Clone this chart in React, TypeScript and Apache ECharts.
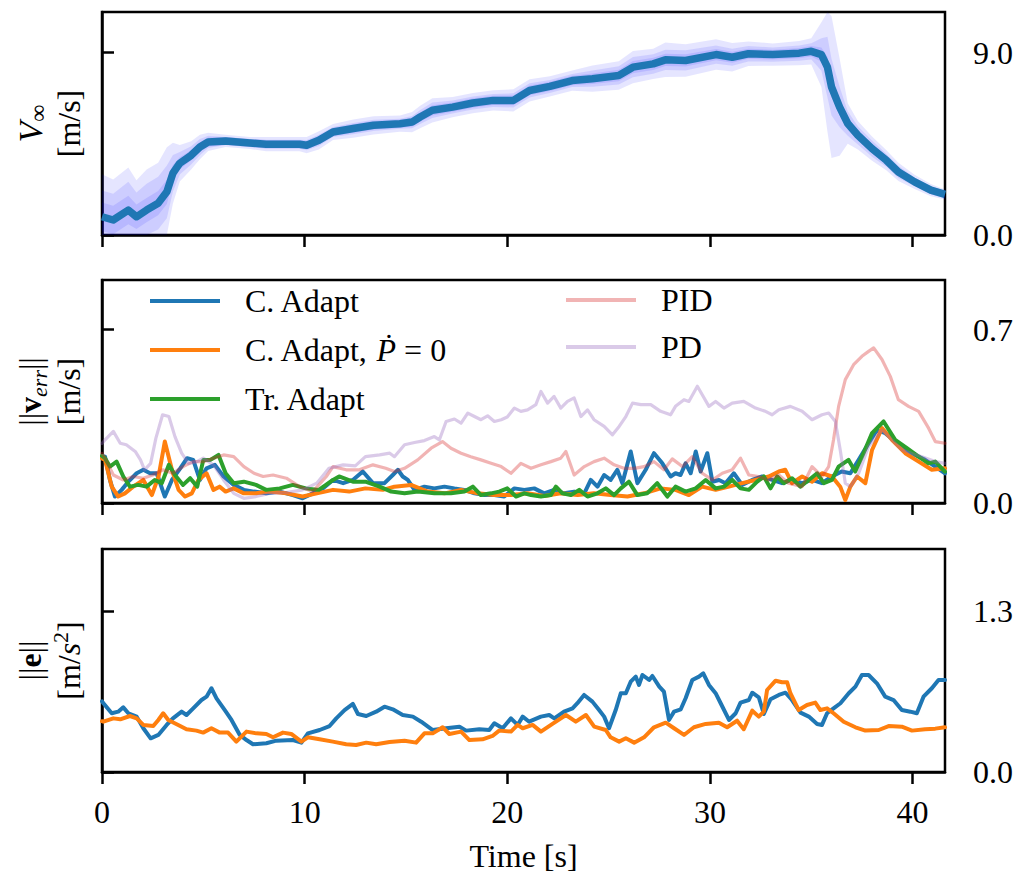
import React, { useEffect, useRef } from 'react';
import * as echarts from 'echarts';

const FONT = "'Liberation Serif', 'DejaVu Serif', serif";
const FS = 32;

const xTicks = [0, 10, 20, 30, 40];
const speedTicks = [0, 9];
const errTicks = [0, 0.7];
const accTicks = [0, 1.3];

const legendLeft = ['C. Adapt', 'C. Adapt, Ṗ = 0', 'Tr. Adapt'];
const legendRight = ['PID', 'PD'];

// Panel 1: airspeed mean and spread
const speedTime = [0, 0.55, 1.3, 1.7, 2.2, 2.77, 3.2, 3.5, 3.84, 4.4, 4.83, 5.24, 6.1, 7.3, 8.1, 9.75, 10.1, 10.7, 11.4, 12.4, 13.4, 14.7, 15.3, 15.7, 16.3, 17.3, 18.3, 19.3, 20.3, 21.1, 22.1, 23.2, 24.2, 25.5, 26.2, 27.2, 27.8, 28.8, 30.3, 31.1, 31.9, 33.1, 34.4, 35.0, 35.5, 35.8, 36.0, 36.4, 36.8, 37.3, 38.0, 38.7, 39.3, 40.1, 40.9, 41.6];
const speedMean = [0.90, 0.74, 1.23, 0.90, 1.23, 1.57, 2.13, 3.05, 3.54, 3.93, 4.34, 4.59, 4.64, 4.54, 4.48, 4.48, 4.43, 4.67, 5.08, 5.25, 5.41, 5.49, 5.57, 5.82, 6.15, 6.31, 6.51, 6.64, 6.64, 7.13, 7.33, 7.62, 7.71, 7.87, 8.28, 8.44, 8.64, 8.61, 8.90, 8.77, 8.94, 8.90, 8.97, 9.06, 8.90, 8.28, 7.30, 6.31, 5.50, 4.92, 4.26, 3.69, 3.11, 2.62, 2.21, 2.00];
const speedSpreadOuter = [2.1, 2.0, 2.1, 1.8, 2.0, 2.0, 2.2, 1.5, 0.9, 0.7, 0.6, 0.45, 0.3, 0.3, 0.35, 0.35, 0.4, 0.45, 0.4, 0.45, 0.45, 0.4, 0.5, 0.55, 0.6, 0.5, 0.5, 0.5, 0.55, 0.55, 0.5, 0.5, 0.65, 0.7, 0.8, 0.75, 0.85, 0.8, 0.75, 0.7, 0.6, 0.55, 0.6, 0.65, 1.6, 3.2, 3.5, 2.4, 1.0, 0.7, 0.6, 0.5, 0.45, 0.35, 0.3, 0.25];
const speedSpreadMid = [1.3, 1.3, 1.4, 1.2, 1.3, 1.3, 1.3, 0.9, 0.55, 0.45, 0.4, 0.3, 0.2, 0.2, 0.22, 0.22, 0.25, 0.28, 0.25, 0.28, 0.28, 0.25, 0.3, 0.35, 0.38, 0.32, 0.32, 0.32, 0.35, 0.35, 0.32, 0.32, 0.4, 0.45, 0.5, 0.48, 0.5, 0.5, 0.45, 0.42, 0.38, 0.35, 0.38, 0.4, 0.8, 1.5, 1.4, 1.0, 0.6, 0.45, 0.4, 0.32, 0.3, 0.22, 0.2, 0.16];
const speedSpreadInner = [0.7, 0.7, 0.7, 0.6, 0.6, 0.6, 0.6, 0.4, 0.3, 0.25, 0.24, 0.22, 0.2, 0.2, 0.2, 0.2, 0.2, 0.21, 0.2, 0.21, 0.21, 0.2, 0.22, 0.23, 0.25, 0.23, 0.23, 0.23, 0.24, 0.24, 0.23, 0.23, 0.26, 0.28, 0.3, 0.3, 0.3, 0.3, 0.28, 0.27, 0.25, 0.24, 0.25, 0.26, 0.35, 0.5, 0.5, 0.4, 0.3, 0.26, 0.24, 0.22, 0.21, 0.2, 0.2, 0.2];

// Panel 2: velocity error norms [t, value]
const errCAdapt: number[][] = [[0, 0.19], [0.15, 0.187], [0.39, 0.093], [0.64, 0.026], [0.97, 0.053], [1.3, 0.086], [1.71, 0.12], [2.04, 0.134], [2.37, 0.12], [2.7, 0.12], [3.1, 0.026], [3.45, 0.093], [3.86, 0.14], [4.2, 0.181], [4.5, 0.174], [4.83, 0.093], [5.16, 0.14], [5.57, 0.154], [6.0, 0.107], [6.5, 0.073], [7.0, 0.053], [7.5, 0.046], [8.1, 0.039], [8.77, 0.046], [9.42, 0.032], [9.9, 0.019], [10.4, 0.039], [10.9, 0.059], [11.4, 0.093], [11.9, 0.08], [12.38, 0.093], [12.87, 0.127], [13.37, 0.08], [13.94, 0.08], [14.35, 0.113], [14.6, 0.134], [14.84, 0.107], [15.09, 0.093], [15.42, 0.053], [15.91, 0.066], [16.4, 0.059], [16.9, 0.066], [17.39, 0.059], [17.88, 0.053], [18.38, 0.039], [18.87, 0.032], [19.36, 0.032], [19.85, 0.026], [20.35, 0.059], [20.84, 0.053], [21.33, 0.059], [21.82, 0.039], [22.31, 0.053], [22.8, 0.039], [23.3, 0.046], [23.8, 0.039], [24.12, 0.093], [24.45, 0.066], [24.78, 0.113], [25.1, 0.093], [25.43, 0.134], [25.68, 0.08], [26.09, 0.208], [26.42, 0.08], [26.83, 0.134], [27.24, 0.201], [27.65, 0.16], [28.06, 0.107], [28.3, 0.12], [28.55, 0.113], [28.8, 0.16], [29.05, 0.12], [29.3, 0.208], [29.54, 0.127], [29.87, 0.201], [30.12, 0.086], [30.45, 0.093], [30.77, 0.08], [31.18, 0.12], [31.59, 0.073], [32.08, 0.093], [32.58, 0.107], [33.07, 0.093], [33.56, 0.08], [34.05, 0.093], [34.55, 0.08], [35.04, 0.093], [35.53, 0.08], [36.02, 0.107], [36.5, 0.127], [36.93, 0.12], [37.34, 0.174], [37.83, 0.241], [38.24, 0.295], [38.65, 0.282], [39.14, 0.248], [39.64, 0.214], [40.13, 0.194], [40.62, 0.174], [41.12, 0.147], [41.6, 0.12]];
const errCAdaptP0: number[][] = [[0, 0.18], [0.15, 0.174], [0.48, 0.066], [0.8, 0.026], [1.13, 0.039], [1.54, 0.066], [2.04, 0.093], [2.46, 0.032], [2.79, 0.107], [3.1, 0.248], [3.45, 0.134], [3.78, 0.053], [4.1, 0.026], [4.43, 0.039], [4.76, 0.093], [5.16, 0.12], [5.5, 0.053], [5.8, 0.066], [6.1, 0.046], [6.5, 0.059], [7.0, 0.039], [7.6, 0.039], [8.27, 0.046], [9.1, 0.039], [9.9, 0.026], [10.6, 0.039], [11.4, 0.053], [12.2, 0.046], [13.0, 0.059], [13.86, 0.053], [14.43, 0.066], [15.25, 0.073], [16.07, 0.046], [16.9, 0.039], [17.72, 0.053], [18.54, 0.039], [19.36, 0.032], [20.18, 0.032], [21.0, 0.039], [21.82, 0.028], [22.64, 0.039], [23.47, 0.032], [24.28, 0.039], [25.1, 0.032], [25.93, 0.026], [26.75, 0.039], [27.57, 0.059], [28.3, 0.053], [28.96, 0.032], [29.62, 0.066], [30.28, 0.053], [30.94, 0.066], [31.59, 0.08], [32.25, 0.093], [32.9, 0.107], [33.4, 0.127], [33.72, 0.134], [34.05, 0.08], [34.55, 0.107], [35.04, 0.086], [35.53, 0.12], [36.02, 0.107], [36.43, 0.066], [36.68, 0.012], [36.93, 0.066], [37.26, 0.107], [37.67, 0.08], [38.0, 0.214], [38.49, 0.302], [38.98, 0.255], [39.64, 0.201], [40.3, 0.167], [40.95, 0.134], [41.6, 0.14]];
const errTrAdapt: number[][] = [[0, 0.19], [0.15, 0.181], [0.39, 0.147], [0.72, 0.167], [1.05, 0.107], [1.38, 0.066], [1.79, 0.073], [2.2, 0.066], [2.6, 0.093], [2.95, 0.08], [3.3, 0.154], [3.6, 0.113], [4.0, 0.073], [4.35, 0.1], [4.7, 0.066], [5.0, 0.174], [5.35, 0.174], [5.75, 0.194], [6.1, 0.12], [6.5, 0.08], [7.0, 0.086], [7.6, 0.073], [8.1, 0.053], [8.77, 0.059], [9.42, 0.073], [10.06, 0.059], [10.7, 0.053], [11.4, 0.093], [11.7, 0.107], [12.38, 0.086], [13.0, 0.086], [13.7, 0.066], [14.27, 0.046], [14.93, 0.039], [15.58, 0.046], [16.4, 0.039], [17.22, 0.039], [17.88, 0.046], [18.3, 0.066], [18.7, 0.032], [19.2, 0.039], [19.6, 0.046], [20.0, 0.059], [20.43, 0.026], [20.84, 0.039], [21.17, 0.032], [21.66, 0.026], [22.15, 0.032], [22.4, 0.066], [22.72, 0.039], [23.14, 0.032], [23.55, 0.053], [23.96, 0.026], [24.45, 0.039], [24.86, 0.059], [25.27, 0.032], [25.6, 0.059], [26.0, 0.086], [26.42, 0.032], [26.9, 0.039], [27.4, 0.08], [27.9, 0.026], [28.3, 0.066], [28.8, 0.046], [29.3, 0.059], [29.79, 0.093], [30.28, 0.059], [30.69, 0.066], [31.1, 0.093], [31.51, 0.059], [31.92, 0.053], [32.33, 0.086], [32.66, 0.107], [32.99, 0.059], [33.32, 0.107], [33.64, 0.08], [34.05, 0.1], [34.46, 0.066], [34.88, 0.093], [35.29, 0.12], [35.62, 0.08], [36.02, 0.093], [36.35, 0.147], [36.84, 0.174], [37.17, 0.127], [37.58, 0.201], [38.0, 0.282], [38.57, 0.329], [39.14, 0.255], [39.72, 0.221], [40.3, 0.187], [40.79, 0.16], [41.12, 0.167], [41.6, 0.127]];
const errPID: number[][] = [[0, 0.2], [0.15, 0.181], [0.56, 0.113], [1.05, 0.093], [1.54, 0.107], [2.04, 0.1], [2.5, 0.113], [3.0, 0.134], [3.5, 0.12], [4.0, 0.147], [4.5, 0.167], [5.0, 0.167], [5.5, 0.181], [6.0, 0.194], [6.5, 0.187], [7.0, 0.147], [7.5, 0.12], [7.95, 0.107], [8.44, 0.113], [9.1, 0.1], [9.75, 0.066], [10.4, 0.046], [11.07, 0.107], [11.4, 0.147], [12.05, 0.134], [12.7, 0.134], [13.37, 0.154], [14.0, 0.14], [14.43, 0.127], [14.93, 0.14], [15.58, 0.174], [16.24, 0.221], [16.8, 0.248], [17.22, 0.221], [17.72, 0.201], [18.2, 0.187], [18.7, 0.174], [19.2, 0.16], [19.7, 0.147], [20.18, 0.12], [20.67, 0.16], [21.17, 0.14], [21.66, 0.154], [22.15, 0.167], [22.64, 0.181], [22.89, 0.208], [23.3, 0.113], [23.8, 0.147], [24.28, 0.167], [24.78, 0.181], [25.27, 0.154], [25.76, 0.14], [26.26, 0.14], [26.75, 0.147], [27.24, 0.167], [27.73, 0.134], [28.14, 0.178], [28.64, 0.147], [29.13, 0.187], [29.62, 0.12], [30.12, 0.093], [30.61, 0.12], [31.1, 0.134], [31.51, 0.181], [31.92, 0.113], [32.41, 0.107], [32.9, 0.093], [33.4, 0.113], [33.88, 0.08], [34.55, 0.066], [35.04, 0.147], [35.53, 0.107], [35.86, 0.147], [36.1, 0.255], [36.35, 0.39], [36.68, 0.498], [37.09, 0.558], [37.5, 0.592], [37.83, 0.612], [38.08, 0.626], [38.49, 0.579], [38.9, 0.511], [39.3, 0.417], [39.8, 0.39], [40.3, 0.37], [40.79, 0.302], [41.12, 0.248], [41.6, 0.241]];
const errPD: number[][] = [[0, 0.24], [0.15, 0.255], [0.56, 0.289], [0.9, 0.241], [1.2, 0.235], [1.64, 0.208], [1.9, 0.174], [2.1, 0.134], [2.4, 0.16], [2.66, 0.262], [2.99, 0.356], [3.3, 0.349], [3.6, 0.268], [3.93, 0.201], [4.27, 0.16], [4.68, 0.167], [5.0, 0.181], [5.5, 0.154], [6.0, 0.093], [6.5, 0.039], [7.0, 0.019], [7.6, 0.026], [8.27, 0.039], [9.1, 0.042], [9.9, 0.053], [10.6, 0.08], [11.2, 0.14], [11.9, 0.154], [12.5, 0.15], [13.0, 0.187], [13.7, 0.194], [14.2, 0.201], [14.43, 0.187], [14.93, 0.235], [15.42, 0.244], [15.91, 0.252], [16.4, 0.268], [16.65, 0.255], [16.98, 0.329], [17.39, 0.339], [17.72, 0.322], [18.05, 0.363], [18.38, 0.349], [18.7, 0.336], [19.03, 0.352], [19.36, 0.329], [19.7, 0.336], [20.0, 0.347], [20.35, 0.383], [20.67, 0.37], [21.0, 0.376], [21.41, 0.397], [21.66, 0.45], [21.99, 0.403], [22.31, 0.43], [22.64, 0.383], [22.97, 0.41], [23.3, 0.424], [23.63, 0.349], [23.96, 0.376], [24.28, 0.336], [24.78, 0.309], [25.19, 0.275], [25.52, 0.309], [25.85, 0.349], [26.18, 0.403], [26.59, 0.397], [27.08, 0.397], [27.57, 0.37], [28.06, 0.356], [28.3, 0.39], [28.72, 0.417], [28.96, 0.41], [29.38, 0.471], [29.62, 0.437], [29.95, 0.39], [30.28, 0.41], [30.69, 0.383], [31.1, 0.403], [31.67, 0.41], [32.25, 0.383], [32.74, 0.37], [33.07, 0.356], [33.4, 0.376], [33.97, 0.39], [34.55, 0.37], [35.04, 0.336], [35.53, 0.356], [35.86, 0.363], [36.19, 0.329], [36.43, 0.214], [36.68, 0.08], [36.93, 0.066], [37.34, 0.12], [37.83, 0.228], [38.49, 0.295], [39.47, 0.214], [40.46, 0.187], [41.12, 0.167], [41.6, 0.16]];

// Panel 3: adaptation error norms [t, value]
const accCAdapt: number[][] = [[0, 0.57], [0.07, 0.555], [0.48, 0.474], [0.8, 0.487], [1.05, 0.522], [1.3, 0.474], [1.71, 0.447], [2.04, 0.353], [2.4, 0.272], [2.78, 0.299], [3.19, 0.38], [3.5, 0.433], [3.93, 0.487], [4.17, 0.46], [4.5, 0.514], [4.91, 0.581], [5.16, 0.608], [5.4, 0.676], [5.65, 0.595], [6.06, 0.5], [6.39, 0.42], [6.8, 0.299], [7.13, 0.258], [7.45, 0.224], [8.11, 0.232], [8.6, 0.253], [9.42, 0.258], [9.84, 0.237], [10.16, 0.312], [10.74, 0.339], [11.23, 0.371], [11.56, 0.433], [11.97, 0.5], [12.38, 0.549], [12.63, 0.468], [13.04, 0.452], [13.53, 0.487], [13.94, 0.527], [14.35, 0.506], [14.84, 0.46], [15.34, 0.447], [15.75, 0.406], [16.32, 0.339], [16.98, 0.353], [17.64, 0.366], [17.97, 0.334], [18.62, 0.345], [19.11, 0.339], [19.36, 0.393], [19.77, 0.353], [20.18, 0.433], [20.51, 0.38], [20.76, 0.447], [21.08, 0.406], [21.66, 0.447], [22.07, 0.46], [22.32, 0.433], [22.8, 0.487], [23.22, 0.514], [23.46, 0.555], [23.79, 0.622], [24.2, 0.568], [24.53, 0.5], [24.78, 0.447], [25.02, 0.353], [25.35, 0.5], [25.6, 0.636], [25.85, 0.636], [26.09, 0.729], [26.34, 0.77], [26.5, 0.703], [26.67, 0.783], [27.0, 0.743], [27.16, 0.775], [27.5, 0.689], [27.73, 0.648], [27.98, 0.42], [28.23, 0.487], [28.56, 0.506], [28.8, 0.595], [29.13, 0.743], [29.46, 0.77], [29.67, 0.797], [29.95, 0.703], [30.28, 0.636], [30.53, 0.555], [30.94, 0.42], [31.27, 0.474], [31.51, 0.56], [31.92, 0.581], [32.09, 0.64], [32.41, 0.603], [32.66, 0.468], [32.99, 0.587], [33.4, 0.622], [33.73, 0.64], [34.05, 0.581], [34.47, 0.479], [34.88, 0.447], [35.29, 0.388], [35.53, 0.38], [35.78, 0.474], [36.1, 0.514], [36.44, 0.555], [36.85, 0.636], [37.18, 0.689], [37.5, 0.783], [37.83, 0.783], [38.24, 0.716], [38.65, 0.608], [39.06, 0.581], [39.47, 0.5], [39.89, 0.487], [40.21, 0.474], [40.54, 0.608], [40.95, 0.676], [41.28, 0.743], [41.6, 0.743]];
const accCAdaptP0: number[][] = [[0, 0.41], [0.07, 0.406], [0.56, 0.433], [0.9, 0.425], [1.38, 0.452], [1.71, 0.433], [2.04, 0.38], [2.53, 0.371], [2.78, 0.42], [3.02, 0.474], [3.27, 0.42], [3.76, 0.38], [4.17, 0.345], [4.66, 0.334], [4.99, 0.318], [5.4, 0.353], [5.81, 0.318], [6.22, 0.318], [6.63, 0.245], [7.13, 0.326], [7.62, 0.312], [8.11, 0.307], [8.44, 0.28], [8.93, 0.318], [9.34, 0.307], [9.84, 0.245], [10.16, 0.28], [10.74, 0.264], [11.39, 0.245], [12.05, 0.224], [12.54, 0.218], [13.04, 0.237], [13.53, 0.224], [14.19, 0.242], [14.93, 0.253], [15.5, 0.237], [15.91, 0.312], [16.32, 0.312], [16.81, 0.361], [17.14, 0.307], [17.72, 0.326], [18.13, 0.258], [18.78, 0.264], [19.27, 0.291], [19.6, 0.334], [20.18, 0.326], [20.51, 0.38], [20.76, 0.353], [21.25, 0.38], [21.66, 0.326], [22.23, 0.388], [22.89, 0.46], [23.38, 0.406], [23.88, 0.46], [24.29, 0.366], [24.86, 0.339], [25.1, 0.28], [25.52, 0.245], [25.85, 0.272], [26.26, 0.237], [26.75, 0.28], [27.24, 0.361], [27.82, 0.398], [28.23, 0.353], [28.72, 0.299], [29.21, 0.361], [29.79, 0.388], [30.44, 0.398], [30.85, 0.361], [31.34, 0.414], [31.67, 0.345], [32.09, 0.495], [32.41, 0.447], [32.66, 0.487], [32.82, 0.662], [33.24, 0.737], [33.56, 0.724], [33.81, 0.724], [33.97, 0.636], [34.38, 0.5], [34.79, 0.541], [35.2, 0.56], [35.45, 0.5], [35.78, 0.514], [36.1, 0.474], [36.6, 0.406], [37.18, 0.361], [37.67, 0.334], [38.33, 0.339], [38.82, 0.371], [39.47, 0.366], [39.97, 0.334], [40.62, 0.345], [41.12, 0.35], [41.6, 0.361]];

const BLUE = '#1f77b4';
const ORANGE = '#ff7f0e';
const GREEN = '#2ca02c';
const PID_COLOR = 'rgba(214,39,40,0.35)';
const PD_COLOR = 'rgba(148,103,189,0.35)';
const BAND_COLOR = 'rgba(0,0,255,0.1)';

const GRID_TOPS = [12, 280, 549];
const GRID_H = 223;
const X_MAX = 41.6;
const Y_MAX = [11, 0.9, 1.8];

function bandSeries(spread: number[]) {
  return {
    type: 'custom', xAxisIndex: 0, yAxisIndex: 0, silent: true, z: 1,
    data: [[0, 0]],
    renderItem: (_params: any, api: any) => {
      const upper = speedTime.map((t, i) => api.coord([t, Math.min(Y_MAX[0], speedMean[i] + spread[i])]));
      const lower = speedTime.map((t, i) => api.coord([t, Math.max(0, speedMean[i] - spread[i])])).reverse();
      return { type: 'polygon', shape: { points: upper.concat(lower) }, style: { fill: BAND_COLOR } };
    },
  };
}

function lineSeries(name: string, data: number[][], color: string, width: number, axis: number) {
  return {
    type: 'line', name, data, xAxisIndex: axis, yAxisIndex: axis, symbol: 'none', showSymbol: false,
    color, itemStyle: { color }, lineStyle: { color, width, join: 'round', cap: 'round' }, z: 3,
  };
}

export default function App() {
  const ref = useRef<HTMLDivElement>(null);
  useEffect(() => {
    if (!ref.current) return;
    const chart = echarts.init(ref.current, undefined, { renderer: 'svg' });
    const txt = { fontFamily: FONT, fontSize: FS, color: '#000' };
    const grids = GRID_TOPS.map((top) => ({
      left: 102, right: 79, top, height: GRID_H, show: true, borderColor: '#000', borderWidth: 2.5, backgroundColor: 'transparent',
    }));
    const xAxes = [0, 1, 2].map((i) => ({
      type: 'value', gridIndex: i, min: 0, max: X_MAX,
      axisLine: { show: true, lineStyle: { color: '#000', width: 2.5 } },
      axisTick: { show: true, inside: false, length: 12, customValues: xTicks, lineStyle: { color: '#000', width: 2.5 } },
      axisLabel: { show: i === 2, customValues: xTicks, margin: 24, ...txt },
      splitLine: { show: false },
      name: i === 2 ? 'Time [s]' : '',
      nameLocation: 'middle', nameGap: 68,
      nameTextStyle: txt,
    }));
    const yTicks = [speedTicks, errTicks, accTicks];
    const yAxes = [0, 1, 2].map((i) => ({
      type: 'value', gridIndex: i, position: 'right', min: 0, max: Y_MAX[i],
      axisLine: { show: true, lineStyle: { color: '#000', width: 2.5 } },
      axisTick: { show: true, inside: false, length: 12, customValues: yTicks[i], lineStyle: { color: '#000', width: 2.5 } },
      axisLabel: { show: true, customValues: yTicks[i], margin: 28, formatter: (v: number) => v.toFixed(1), ...txt },
      splitLine: { show: false },
    }));

    const rich = {
      n: { fontFamily: FONT, fontSize: FS, lineHeight: 40, fill: '#000' },
      it: { fontFamily: FONT, fontSize: 34, fontStyle: 'italic', lineHeight: 40, fill: '#000' },
      its: { fontFamily: FONT, fontSize: FS, fontStyle: 'italic', lineHeight: 40, fill: '#000' },
      b: { fontFamily: FONT, fontSize: FS, fontWeight: 'bold', lineHeight: 40, fill: '#000' },
      sub: { fontFamily: FONT, fontSize: 22, fontStyle: 'italic', lineHeight: 22, verticalAlign: 'bottom', fill: '#000' },
      subn: { fontFamily: FONT, fontSize: 24, lineHeight: 22, verticalAlign: 'bottom', fill: '#000' },
      sup: { fontFamily: FONT, fontSize: 22, lineHeight: 20, verticalAlign: 'top', fill: '#000' },
    };
    const ylabel = (x: number, y: number, text: string) => ({
      type: 'text', x, y, rotation: Math.PI / 2,
      style: { text, rich, fontFamily: FONT, fontSize: FS, fill: '#000', align: 'center', verticalAlign: 'middle' },
    });
    const mid = (i: number) => GRID_TOPS[i] + GRID_H / 2;

    const legendCommon = {
      orient: 'vertical', padding: 0, itemWidth: 70, itemHeight: 4, icon: 'rect',
      textStyle: {
        ...txt, padding: [0, 0, 0, 20],
        rich: { i: { fontFamily: FONT, fontSize: FS, fontStyle: 'italic', color: '#000' } },
      },
      formatter: (name: string) => (name === 'C. Adapt, Ṗ = 0' ? 'C. Adapt, {i|Ṗ} = 0' : name),
      selectedMode: false,
    };

    chart.setOption({
      animation: false,
      backgroundColor: '#fff',
      grid: grids,
      xAxis: xAxes,
      yAxis: yAxes,
      legend: [
        { ...legendCommon, data: legendLeft, left: 150, top: 285, itemGap: 17 },
        { ...legendCommon, data: legendRight, left: 566, top: 284, itemGap: 15 },
      ],
      graphic: [
        ylabel(30, mid(0), '{it|V}{subn|∞}'),
        ylabel(69, mid(0), '{n|[m/s]}'),
        ylabel(30, mid(1), '{n|||}{b|v}{sub|err}{n|||}'),
        ylabel(69, mid(1), '{n|[m/s]}'),
        ylabel(30, mid(2), '{n|||}{b|e}{n|||}'),
        ylabel(69, mid(2), '{n|[m/}{its|s}{sup|2}{n|]}'),
      ],
      series: [
        bandSeries(speedSpreadOuter),
        bandSeries(speedSpreadMid),
        bandSeries(speedSpreadInner),
        {
          type: 'line', name: 'speed', xAxisIndex: 0, yAxisIndex: 0,
          data: speedTime.map((t, i) => [t, speedMean[i]]),
          symbol: 'none', color: BLUE, lineStyle: { color: BLUE, width: 7.5, join: 'round' }, z: 3,
        },
        lineSeries('C. Adapt', errCAdapt, BLUE, 4, 1),
        lineSeries('C. Adapt, Ṗ = 0', errCAdaptP0, ORANGE, 4, 1),
        lineSeries('Tr. Adapt', errTrAdapt, GREEN, 4, 1),
        lineSeries('PID', errPID, PID_COLOR, 3.2, 1),
        lineSeries('PD', errPD, PD_COLOR, 3.2, 1),
        lineSeries('C. Adapt (e)', accCAdapt, BLUE, 4, 2),
        lineSeries('C. Adapt, Ṗ = 0 (e)', accCAdaptP0, ORANGE, 4, 2),
      ],
    });
    return () => chart.dispose();
  }, []);
  return <div ref={ref} style={{ position: 'absolute', left: 0, top: 0, width: 1024, height: 880 }} />;
}
